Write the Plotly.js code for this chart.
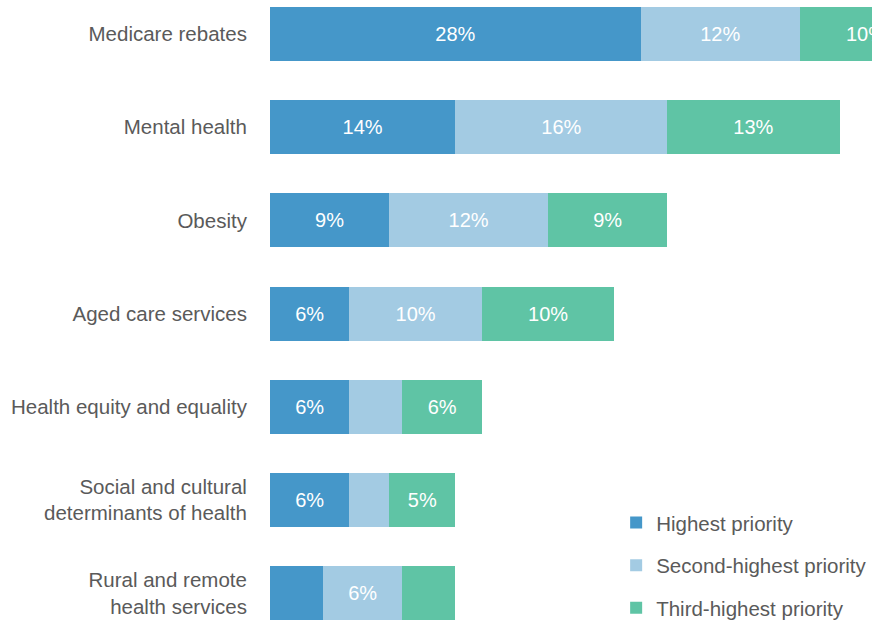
<!DOCTYPE html>
<html>
<head>
<meta charset="utf-8">
<script src="https://cdn.plot.ly/plotly-3.0.1.min.js"></script>
<style>html,body{margin:0;padding:0;background:#fff;}#chart{width:872px;height:622px;}</style>
</head>
<body>
<div id="chart"></div>
<script>
const categories = [
  "Medicare rebates",
  "Mental health",
  "Obesity",
  "Aged care services",
  "Health equity and equality",
  "Social and cultural<br>determinants of health",
  "Rural and remote<br>health services"
];
const seriesNames = ["Highest priority", "Second-highest priority", "Third-highest priority"];
const highest = [28, 14, 9, 6, 6, 6, 4];
const second  = [12, 16, 12, 10, 4, 3, 6];
const third   = [10, 13, 9, 10, 6, 5, 4];
const colors = ["#4597c9", "#a3cbe3", "#5fc4a5"];

const seriesValues = [highest, second, third];
const traces = seriesValues.map((vals, i) => ({
  type: "bar",
  orientation: "h",
  name: seriesNames[i],
  legendgroup: "g" + i,
  y: categories,
  x: vals,
  width: 0.58,
  marker: {color: colors[i], line: {width: 0}},
  text: vals.map(v => v >= 5 ? v + "%" : ""),
  textposition: "inside",
  insidetextanchor: "middle",
  textangle: 0,
  constraintext: "none",
  textfont: {color: "#ffffff", size: 20, family: "Liberation Sans, Arial, sans-serif"},
  hoverinfo: "x+y+name"
}));

const layout = {
  width: 872, height: 622,
  barmode: "stack",
  margin: {l: 270, r: 0, t: 0, b: 0, pad: 0, autoexpand: false},
  paper_bgcolor: "#ffffff",
  plot_bgcolor: "#ffffff",
  font: {family: "Liberation Sans, Arial, sans-serif", color: "#5a5a5a", size: 20.5},
  xaxis: {
    range: [0, 45.45],
    visible: false,
    showgrid: false,
    zeroline: false,
    automargin: false,
    fixedrange: true
  },
  yaxis: {
    type: "category",
    range: [6.311, -0.365],
    showgrid: false,
    zeroline: false,
    showline: false,
    automargin: false,
    ticks: "outside",
    ticklen: 18,
    tickcolor: "rgba(0,0,0,0)",
    tickfont: {size: 20.5, color: "#5a5a5a"},
    fixedrange: true
  },
  showlegend: true,
  legend: {
    x: 0.575, xanchor: "left",
    y: 0.1918, yanchor: "top",
    traceorder: "grouped",
    tracegroupgap: 13,
    font: {size: 20.5, color: "#5a5a5a"},
    bgcolor: "rgba(255,255,255,0)",
    itemclick: false,
    itemdoubleclick: false
  }
};

Plotly.newPlot("chart", traces, layout, {displayModeBar: false, staticPlot: true});
</script>
</body>
</html>
